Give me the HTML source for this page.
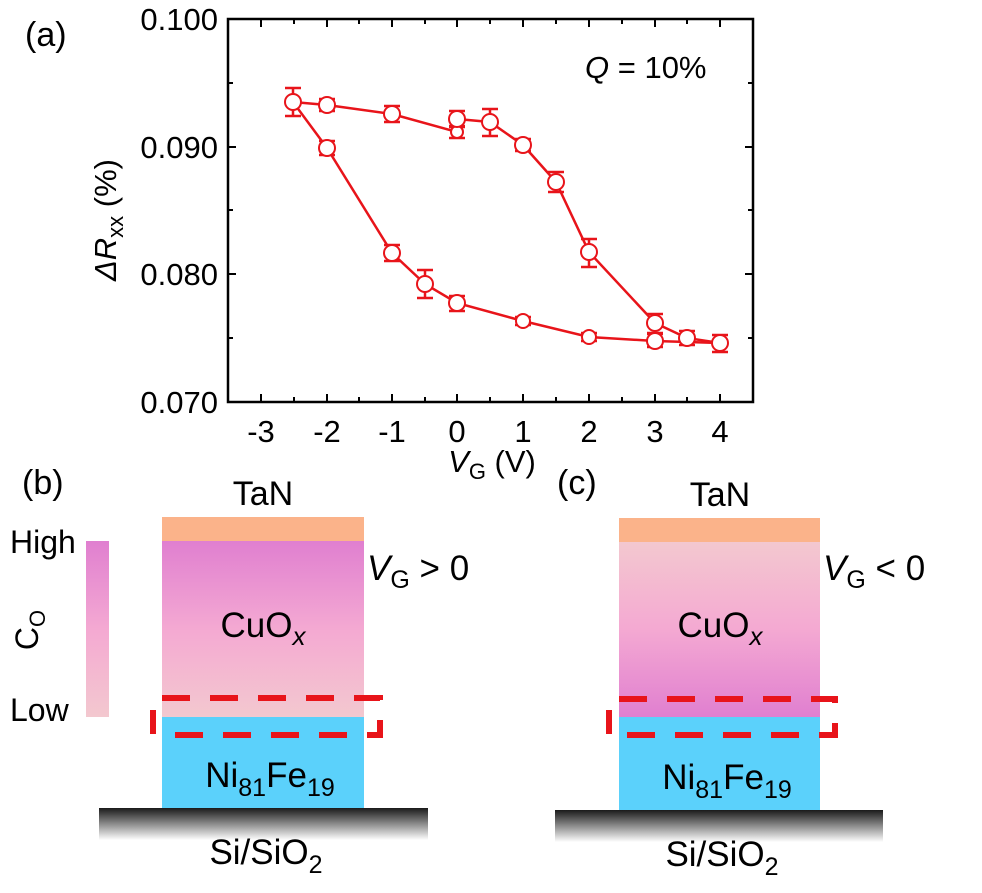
<!DOCTYPE html>
<html><head><meta charset="utf-8"><style>
html,body{margin:0;padding:0;background:#fff}
svg{display:block;font-family:"Liberation Sans",Arial,sans-serif}
</style></head><body>
<svg width="982" height="893" viewBox="0 0 982 893" xmlns="http://www.w3.org/2000/svg">
<defs>
<linearGradient id="gb" x1="0" y1="0" x2="0" y2="1">
<stop offset="0" stop-color="#e07fd0"/><stop offset="0.5" stop-color="#f4a9d2"/><stop offset="1" stop-color="#f3c8cf"/></linearGradient>
<linearGradient id="gc" x1="0" y1="0" x2="0" y2="1">
<stop offset="0" stop-color="#f3c8cf"/><stop offset="0.5" stop-color="#f4a9d2"/><stop offset="1" stop-color="#e07fd0"/></linearGradient>
<linearGradient id="gs" x1="0" y1="0" x2="0" y2="1">
<stop offset="0" stop-color="#1a1a1a"/><stop offset="1" stop-color="#ffffff"/></linearGradient>
</defs>
<!-- (a) -->
<text x="25" y="46" font-size="34">(a)</text>
<rect x="228" y="19" width="525" height="383" fill="none" stroke="#000" stroke-width="2.5"/>
<g stroke="#000" stroke-width="2">
<path d="M228 19h8M228 83h5M228 147h8M228 210h5M228 274h8M228 338h5M228 402h8M753 19h-8M753 83h-5M753 147h-8M753 210h-5M753 274h-8M753 338h-5M753 402h-8"/>
<path d="M261 402v-8M327 402v-8M392 402v-8M457 402v-8M523 402v-8M589 402v-8M655 402v-8M720 402v-8M294 402v-5M359 402v-5M425 402v-5M490 402v-5M556 402v-5M622 402v-5M687 402v-5M261 19v8M327 19v8M392 19v8M457 19v8M523 19v8M589 19v8M655 19v8M720 19v8M294 19v5M359 19v5M425 19v5M490 19v5M556 19v5M622 19v5M687 19v5"/>
</g>
<g font-size="31" text-anchor="end">
<text x="218" y="30">0.100</text><text x="218" y="158">0.090</text><text x="218" y="285">0.080</text><text x="218" y="413">0.070</text>
</g>
<g font-size="31" text-anchor="middle">
<text x="261" y="442">-3</text><text x="327" y="442">-2</text><text x="392" y="442">-1</text><text x="457" y="442">0</text><text x="523" y="442">1</text><text x="589" y="442">2</text><text x="655" y="442">3</text><text x="720" y="442">4</text>
</g>
<text x="492" y="472" font-size="31" text-anchor="middle"><tspan font-style="italic">V</tspan><tspan font-size="22" dy="7">G</tspan><tspan dy="-7"> (V)</tspan></text>
<text transform="translate(116,220) rotate(-90)" font-size="31" text-anchor="middle"><tspan font-style="italic">ΔR</tspan><tspan font-size="22" dy="7">xx</tspan><tspan dy="-7"> (%)</tspan></text>
<text x="585" y="78" font-size="31"><tspan font-style="italic">Q</tspan> = 10%</text>
<g fill="none" stroke="#e8141a" stroke-width="2.5">
<polyline points="293,102 327,105 392,114 457,132 457,119 490,122 523,145 556,182 589,252 655,323 687,338 720,343"/>
<polyline points="293,102 327,148 392,253 425,284 457,303 523,321 589,337 655,341 720,343"/>
<path d="M293,88v28M285,88h16M285,116h16
M327,99v12M319,99h16M319,111h16
M392,106v16M384,106h16M384,122h16
M457,126v12M449,126h16M449,138h16
M457,111v16M449,111h16M449,127h16
M490,109v27M482,109h16M482,136h16
M523,139v12M515,139h16M515,151h16
M556,172v20M548,172h16M548,192h16
M589,239v28M581,239h16M581,267h16
M655,314v19M647,314h16M647,333h16
M687,331v14M679,331h16M679,345h16
M720,335v17M712,335h16M712,352h16
M327,141v14M319,141h16M319,155h16
M392,245v16M384,245h16M384,261h16
M425,270v28M417,270h16M417,298h16
M457,296v15M449,296h16M449,311h16
M523,317v8M515,317h16M515,325h16
M589,333v8M581,333h16M581,341h16
M655,334v13M647,334h16M647,347h16"/>
</g>
<g fill="#fff" stroke="#e8141a" stroke-width="2">
<circle cx="293" cy="102" r="8"/><circle cx="327" cy="105" r="8"/><circle cx="392" cy="114" r="8"/><circle cx="457" cy="132" r="6"/><circle cx="457" cy="119" r="8"/><circle cx="490" cy="122" r="8"/><circle cx="523" cy="145" r="8"/><circle cx="556" cy="182" r="8"/><circle cx="589" cy="252" r="8"/><circle cx="655" cy="323" r="8"/><circle cx="687" cy="338" r="8"/><circle cx="720" cy="343" r="8"/>
<circle cx="327" cy="148" r="8"/><circle cx="392" cy="253" r="8"/><circle cx="425" cy="284" r="8"/><circle cx="457" cy="303" r="8"/><circle cx="523" cy="321" r="7"/><circle cx="589" cy="337" r="7"/><circle cx="655" cy="341" r="8"/>
</g>
<!-- (b) -->
<text x="22" y="494" font-size="34">(b)</text>
<text x="263" y="505" font-size="34" text-anchor="middle">TaN</text>
<rect x="86" y="541" width="23" height="176" fill="url(#gb)"/>
<text x="10" y="553" font-size="32">High</text>
<text x="10" y="721" font-size="32">Low</text>
<text transform="translate(38,630) rotate(-90)" font-size="32" text-anchor="middle">C<tspan font-size="22" dy="7">O</tspan></text>
<rect x="162" y="517" width="202" height="24" fill="#fbb38a"/>
<rect x="162" y="541" width="202" height="176" fill="url(#gb)"/>
<rect x="162" y="717" width="202" height="91" fill="#5bd1fb"/>
<rect x="99" y="808" width="329" height="32" fill="url(#gs)"/>
<text x="263" y="637" font-size="35" text-anchor="middle">CuO<tspan font-size="26" font-style="italic" dy="8">x</tspan></text>
<text x="270" y="787" font-size="35" text-anchor="middle">Ni<tspan font-size="25" dy="9">81</tspan><tspan dy="-9">Fe</tspan><tspan font-size="25" dy="9">19</tspan></text>
<text x="266" y="864" font-size="35" text-anchor="middle">Si/SiO<tspan font-size="25" dy="9">2</tspan></text>
<text x="367" y="580" font-size="35"><tspan font-style="italic">V</tspan><tspan font-size="25" dy="8">G</tspan><tspan dy="-8"> &gt; 0</tspan></text>
<g stroke="#e8141a" stroke-width="6" fill="none">
<path d="M162 698H380V735H168" stroke-dasharray="28,20"/>
<path d="M153 710v24"/>
</g>
<!-- (c) -->
<text x="557" y="494" font-size="34">(c)</text>
<text x="720" y="506" font-size="34" text-anchor="middle">TaN</text>
<rect x="619" y="518" width="201" height="24" fill="#fbb38a"/>
<rect x="619" y="542" width="201" height="175" fill="url(#gc)"/>
<rect x="619" y="717" width="201" height="93" fill="#5bd1fb"/>
<rect x="555" y="810" width="328" height="32" fill="url(#gs)"/>
<text x="720" y="637" font-size="35" text-anchor="middle">CuO<tspan font-size="26" font-style="italic" dy="8">x</tspan></text>
<text x="727" y="789" font-size="35" text-anchor="middle">Ni<tspan font-size="25" dy="9">81</tspan><tspan dy="-9">Fe</tspan><tspan font-size="25" dy="9">19</tspan></text>
<text x="722" y="866" font-size="35" text-anchor="middle">Si/SiO<tspan font-size="25" dy="9">2</tspan></text>
<text x="823" y="580" font-size="35"><tspan font-style="italic">V</tspan><tspan font-size="25" dy="8">G</tspan><tspan dy="-8"> &lt; 0</tspan></text>
<g stroke="#e8141a" stroke-width="6" fill="none">
<path d="M619 699H835V735H625" stroke-dasharray="28,20"/>
<path d="M609 710v24"/>
</g>
</svg>
</body></html>
